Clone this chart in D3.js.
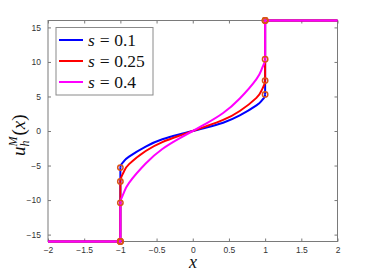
<!DOCTYPE html>
<html>
<head>
<meta charset="utf-8">
<script src="https://cdn.jsdelivr.net/npm/d3@7"></script>
<style>
  html, body { margin: 0; padding: 0; background: #fff; }
  svg { display: block; }
</style>
</head>
<body>
<svg id="chart" width="374" height="280"></svg>
<script>
// ---- data ----
const sLabels = ["0.1", "0.25", "0.4"];
const xGrid = [-1, -0.99, -0.95, -0.88, -0.65, -0.42, -0.19, 0, 0.19, 0.42, 0.65, 0.88, 0.95, 0.99, 1];
const uBlue    = [-5.3, -4.9, -4.35, -3.7, -2.25, -1.2, -0.5, 0, 0.5, 1.2, 2.25, 3.7, 4.35, 4.9, 5.3];
const uRed     = [-7.3, -6.75, -5.85, -4.8, -2.9, -1.6, -0.7, 0, 0.7, 1.6, 2.9, 4.8, 5.85, 6.75, 7.3];
const uMagenta = [-10.4, -9.85, -8.9, -7.5, -4.7, -2.6, -1.1, 0, 1.1, 2.6, 4.7, 7.5, 8.9, 9.85, 10.4];
const exteriorLeftX = [-2, -1];
const exteriorRightX = [1, 2];
const exteriorValue = 16;
const xTicks = [-2, -1.5, -1, -0.5, 0, 0.5, 1, 1.5, 2];
const yTicks = [-15, -10, -5, 0, 5, 10, 15];
const colors = ["#0000ff", "#ff0000", "#ff00ff"];
const markerColor = "#d95319";

const allSeries = [uBlue, uRed, uMagenta];

// ---- layout ----
const svg = d3.select("#chart");
const L = 48, R = 337.5, T = 20.5, B = 241.5;
const x = d3.scaleLinear().domain([-2, 2]).range([L, R]);
const y = d3.scaleLinear().domain([-16, 16]).range([B, T]);

const axisColor = "#7a7a7a";
const textColor = "#333333";

// box first (lines drawn over it)
svg.append("rect").attr("x", L).attr("y", T).attr("width", R - L).attr("height", B - T)
  .attr("fill", "none").attr("stroke", axisColor).attr("stroke-width", 1);

// axes with inward ticks
const gAx = svg.append("g");
gAx.append("g").attr("transform", `translate(0,${B})`)
  .call(d3.axisBottom(x).tickValues(xTicks).tickSizeInner(-3).tickSizeOuter(0).tickPadding(5)
    .tickFormat(d => d3.format("")(d)))
  .call(g => g.select(".domain").remove());
gAx.append("g").attr("transform", `translate(0,${T})`)
  .call(d3.axisTop(x).tickValues(xTicks).tickSizeInner(-3).tickSizeOuter(0).tickFormat(""))
  .call(g => g.select(".domain").remove());
gAx.append("g").attr("transform", `translate(${L},0)`)
  .call(d3.axisLeft(y).tickValues(yTicks).tickSizeInner(-3).tickSizeOuter(0).tickPadding(7))
  .call(g => g.select(".domain").remove());
gAx.append("g").attr("transform", `translate(${R},0)`)
  .call(d3.axisRight(y).tickValues(yTicks).tickSizeInner(-3).tickSizeOuter(0).tickFormat(""))
  .call(g => g.select(".domain").remove());
gAx.selectAll(".tick line").attr("stroke", axisColor).attr("stroke-width", 1);
gAx.selectAll(".tick text").attr("fill", textColor)
  .style("font-family", "'Liberation Sans', Arial, sans-serif").style("font-size", "8.5px");

// ---- lines ----
const lineLin = d3.line().x(d => x(d[0])).y(d => y(d[1]));
const lineCurve = d3.line().x(d => x(d[0])).y(d => y(d[1])).curve(d3.curveNatural);

const gLines = svg.append("g");
allSeries.forEach((vals, i) => {
  const interior = xGrid.map((xv, k) => [xv, vals[k]]);
  const left = [[exteriorLeftX[0], -exteriorValue], [exteriorLeftX[1], -exteriorValue], [xGrid[0], vals[0]]];
  const right = [[xGrid[xGrid.length - 1], vals[vals.length - 1]], [exteriorRightX[0], exteriorValue], [exteriorRightX[1], exteriorValue]];
  const g = gLines.append("g");
  [left, right].forEach(seg => g.append("path").attr("d", lineLin(seg))
    .attr("fill", "none").attr("stroke", colors[i]).attr("stroke-width", 2));
  g.append("path").attr("d", lineCurve(interior))
    .attr("fill", "none").attr("stroke", colors[i]).attr("stroke-width", 2);
});

// markers
const gMarks = svg.append("g");
allSeries.forEach((vals) => {
  const pts = [[exteriorLeftX[1], -exteriorValue], [xGrid[0], vals[0]],
               [xGrid[xGrid.length - 1], vals[vals.length - 1]], [exteriorRightX[0], exteriorValue]];
  pts.forEach(p => gMarks.append("circle")
    .attr("cx", x(p[0])).attr("cy", y(p[1])).attr("r", 2.7)
    .attr("fill", "none").attr("stroke", markerColor).attr("stroke-width", 1.5));
});

// ---- legend ----
const serif = "'Liberation Serif', 'Times New Roman', serif";
const gLeg = svg.append("g");
gLeg.append("rect").attr("x", 56).attr("y", 27.5).attr("width", 97).attr("height", 67.5)
  .attr("fill", "#fff").attr("stroke", "#8a8a8a").attr("stroke-width", 1);
sLabels.forEach((lab, i) => {
  const yy = 40 + i * 21;
  gLeg.append("line").attr("x1", 59).attr("x2", 83).attr("y1", yy).attr("y2", yy)
    .attr("stroke", colors[i]).attr("stroke-width", 2);
  const t = gLeg.append("text").attr("x", 88).attr("y", yy + 5.5)
    .style("font-family", serif).style("font-size", "17.5px").attr("fill", "#111");
  t.append("tspan").style("font-style", "italic").text("s");
  t.append("tspan").attr("dx", 5).text("=");
  t.append("tspan").attr("dx", 4.5).text(lab);
});

// ---- axis labels ----
svg.append("text").attr("x", 193).attr("y", 268).attr("text-anchor", "middle")
  .style("font-family", serif).style("font-style", "italic").style("font-size", "18px")
  .attr("fill", "#111").text("x");

const gY = svg.append("g").attr("transform", "translate(25,132) rotate(-90)")
  .style("font-family", serif).attr("fill", "#111");
const yl = gY.append("text").attr("x", -24).attr("y", 0).style("font-size", "19px");
yl.append("tspan").style("font-style", "italic").text("u");
yl.append("tspan").attr("dy", 4).style("font-style", "italic").style("font-size", "12px").text("h");
yl.append("tspan").attr("dx", -6).attr("dy", -12).style("font-style", "italic").style("font-size", "12px").text("M");
yl.append("tspan").attr("dx", 1).attr("dy", 8).text("(");
yl.append("tspan").style("font-style", "italic").text("x");
yl.append("tspan").text(")");
</script>
</body>
</html>
